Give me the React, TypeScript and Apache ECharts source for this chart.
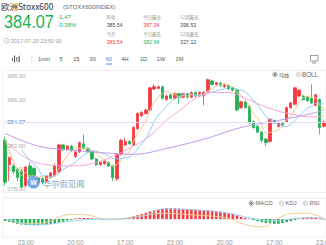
import React, { useEffect, useRef } from 'react';
import * as echarts from 'echarts';

// ---------- data ----------
const opens = [382.5, 380.4, 380.3, 380.0, 379.8, 378.6, 380.3, 380.1, 379.3, 379.2, 379.0, 379.3, 379.5, 379.8, 382.1, 381.7, 382.0,
  381.1, 381.5, 382.2, 381.8, 381.5, 380.9, 380.4, 380.5, 380.6, 380.3, 379.2, 381.3, 382.1, 382.4, 382.1, 383.5, 384.6, 384.8, 385.1,
  386.9, 386.95, 387.1, 386.0, 386.4, 386.1, 386.5, 386.2, 386.5, 386.2, 386.6, 386.3, 386.3, 386.7, 387.6, 387.3, 387.4, 387.1, 387.2,
  387.0, 386.8, 385.3, 385.8, 385.4, 384.1, 383.7, 383.2, 382.6, 382.4, 384.2, 383.7,
  384.0, 384.1, 385.3, 385.6, 386.3, 386.3, 386.2, 386.1, 385.5, 386.0, 383.7];
const closes = [378.9, 381.0, 379.8, 379.3, 378.5, 380.2, 379.4, 379.5, 378.9, 378.9, 379.4, 379.7, 380.3, 382.1, 381.7, 382.0, 381.6,
  381.5, 382.3, 381.8, 381.5, 380.9, 380.4, 380.6, 380.7, 380.3, 379.3, 381.3, 382.5, 382.4, 382.2, 383.6, 384.8, 384.9, 385.1, 387.0,
  387.1, 387.1, 386.1, 386.3, 386.1, 386.5, 386.2, 386.5, 386.2, 386.6, 386.3, 386.6, 386.6, 387.7, 387.3, 387.45, 387.2, 387.25, 386.9,
  386.8, 385.1, 385.8, 385.3, 384.0, 383.6, 383.2, 382.5, 382.3, 384.3, 384.0, 384.0,
  383.8, 385.3, 385.7, 387.0, 386.8, 386.0, 385.9, 385.7, 386.4, 383.6, 384.07];
const lows = [378.6, 379.0, 379.6, 379.0, 378.4, 378.5, 379.3, 379.4, 378.8, 378.7, 378.9, 379.2, 379.4, 379.7, 381.6, 381.6, 381.5,
  381.0, 381.4, 381.7, 381.4, 380.8, 380.3, 380.3, 380.4, 380.2, 379.0, 379.0, 381.2, 382.0, 382.1, 382.0, 383.4, 384.5, 384.7, 385.0,
  386.8, 386.9, 386.0, 385.9, 386.0, 386.0, 385.6, 386.1, 386.1, 386.1, 386.2, 386.2, 385.5, 386.6, 387.2, 387.2, 387.1, 387.0, 386.8,
  386.7, 385.0, 385.2, 385.2, 383.9, 383.5, 383.1, 382.3, 382.0, 382.3, 383.9, 383.6,
  383.7, 384.0, 385.2, 385.5, 386.2, 385.9, 385.8, 385.6, 385.4, 383.0, 383.6];
const highs = [382.8, 381.1, 380.5, 380.1, 380.0, 380.3, 380.6, 380.2, 379.4, 379.3, 379.5, 379.8, 380.5, 382.2, 382.2, 382.1, 382.1,
  381.6, 382.4, 383.0, 381.9, 381.6, 381.0, 380.7, 380.8, 380.7, 380.4, 381.4, 382.6, 382.7, 382.5, 383.7, 384.9, 385.0, 385.2, 387.1,
  387.3, 387.2, 387.2, 386.4, 386.5, 386.6, 386.6, 386.6, 386.6, 386.7, 386.7, 386.7, 386.7, 387.8, 387.7, 387.5, 387.5, 387.3, 387.3,
  387.1, 386.9, 385.9, 385.9, 385.5, 384.2, 383.8, 383.3, 382.7, 384.4, 384.3, 384.1,
  384.1, 385.4, 385.8, 387.1, 386.9, 386.4, 386.3, 387.3, 386.5, 386.1, 384.2];

// moving-average values before the windows are complete
const ma5Head = [382.6, 381.6, 380.7, 380.0];
const ma10Head = [null, null, null, null, 381.7, 381.2, 380.8, 380.4, 380.1];
// sparse points [candle index, value]
const ma20Points = [[0, 382.5], [5, 381.0], [10, 380.4], [16, 380.3], [23, 380.7], [31, 382.0], [35, 382.9], [39, 384.2], [43, 385.3],
  [46, 386.1], [50, 386.6], [54, 386.6], [58, 386.1], [62, 385.5], [66, 385.0], [70, 384.7], [74, 384.5], [77, 384.6]];
const ma60Points = [[0, 383.1], [8, 382.0], [15, 381.7], [23, 381.45], [31, 381.3], [39, 381.8], [49, 382.7], [57, 383.6],
  [66, 384.2], [74, 384.8], [77, 385.1]];

const macdHist = [-2, -3, -4, -5, -5.5, -6, -6, -6, -6, -5.5, -5.5, -5, -4.5, -3.5, -2.5, -1.5, -0.8,
  0.6, 0.9, 1.0, 0.8, 0.6, 0.3, -0.3, -0.4, -0.5, -0.6, -0.3, 0.5, 1.2, 2.0, 3.0, 4.0, 5.0, 6.2, 7.5, 8.5, 9.5, 10.3,
  10.8, 10.8, 10.6, 10.4, 10.2, 10.0, 9.8, 9.5, 9.2, 9.0, 8.8, 8.5, 8.0, 7.5, 7.0, 6.0, 5.0, 3.5, 2.0, 1.0, 0.4,
  -1.0, -2.2, -3.2, -4.0, -4.5, -4.8, -4.8,
  -4.0, -3.2, -2.2, -1.0, 0.5, 1.0, 1.3, 1.5, 1.5, 0.8, -0.5];
const difPoints = [[0, 0], [2, -3], [5, -4.3], [8, -4.3], [11, -2], [14, 3.5], [17, 4.7], [20, 4.0], [24, 0], [28, -0.3], [31, 2.3],
  [35, 4.5], [38, 5.7], [46, 4.0], [54, 0.7], [57, -4.3], [61, -7.7], [63, -7.7], [65, -1], [70, 5.7], [73, 5.7], [75, 4], [77, 0.7]];
const deaPoints = [[0, 0], [3, -3], [7, -6], [11, -5], [15, -2.7], [21, -0.3], [26, 0], [31, 1.3], [35, 5], [38, 10], [46, 9],
  [54, 5.7], [59, 1.3], [64, -2], [69, 0], [73, 1.3], [77, 0.7]];

const timeLabels = ['23:00', '20:00', '17:00', '23:00', '20:00', '17:00', '23:00'];
const LABEL_START = 5;
const LABEL_EVERY = 12;
const yTickValues = [378, 380, 382, 386, 388];
const LAST_PRICE = 384.07;

const toolbarItems = ['1min', '5', '15', '30', '60', '4H', '1D', '1W', '1M'];
const toolbarX = [44, 61, 76.3, 92.7, 108.8, 125, 143.5, 161, 179.5];

// ---------- styles ----------
const RED = '#f5393f';
const GREEN = '#1db152';
const BLUE = '#3a86e0';
const FONT = '"Liberation Sans", Arial, sans-serif';
const CJK = '"Noto Sans CJK SC", "Liberation Sans", sans-serif';

function movingAvg(n: number, head: (number | null)[]) {
  return closes.map((_, i) => {
    if (i < n - 1) return head[i] ?? null;
    let s = 0;
    for (let k = i - n + 1; k <= i; k++) s += closes[k];
    return +(s / n).toFixed(3);
  });
}

function txt(text: string, x: number, y: number, size: number, color: string, family = FONT, extra: any = {}) {
  return {
    type: 'text', x, y, silent: true, z: 100,
    style: {
      text, x: 0, y: 0, fill: color,
      font: `${extra.weight || 'normal'} ${size}px ${family}`,
      textAlign: extra.align || 'left', align: extra.align || 'left',
      textVerticalAlign: 'middle', verticalAlign: 'middle',
    },
    ...(extra.el || {}),
  };
}

function radio(cx: number, cy: number, on: boolean) {
  return on
    ? [
        { type: 'circle', silent: true, z: 100, shape: { cx, cy, r: 2.4 }, style: { fill: '#fff', stroke: '#888', lineWidth: 0.7 } },
        { type: 'circle', silent: true, z: 101, shape: { cx, cy, r: 1.2 }, style: { fill: '#555' } },
      ]
    : [{ type: 'circle', silent: true, z: 100, shape: { cx, cy, r: 2.4 }, style: { fill: '#e4e4e4', stroke: '#ccc', lineWidth: 0.7 } }];
}

export default function App() {
  const ref = useRef<HTMLDivElement>(null);

  useEffect(() => {
    const chart = echarts.init(ref.current!, null, { renderer: 'svg' });
    const cats = closes.map((_, i) => String(i));
    const kData = closes.map((c, i) => [opens[i], c, lows[i], highs[i]]);

    const graphics: any[] = [
      // header
      txt('欧洲Stoxx600', 1, 6.4, 8.5, '#333', CJK),
      txt('(STOXX600INDEX)', 63, 6.5, 6, '#666'),
      txt('384.07', 4, 21.3, 19, GREEN, FONT, { el: { scaleX: 0.86 } }),
      txt('-1.47', 57.3, 17.2, 6, GREEN),
      txt('-0.38%', 57.3, 24.5, 6, GREEN),
      { type: 'circle', silent: true, z: 100, shape: { cx: 6.7, cy: 40.8, r: 2.5 }, style: { fill: 'none', stroke: '#999', lineWidth: 0.6 } },
      { type: 'polyline', silent: true, z: 100, shape: { points: [[6.7, 39.3], [6.7, 40.9], [7.9, 41.6]] }, style: { fill: 'none', stroke: '#999', lineWidth: 0.5 } },
      txt('2017-07-20 23:50:00', 10.7, 40.9, 5.5, '#999'),
      txt('昨收', 106.7, 16.7, 4.4, '#999', CJK),
      txt('385.54', 106.7, 24.5, 5.2, '#444'),
      txt('今日最高', 143.3, 16.7, 4.4, '#999', CJK),
      txt('387.34', 143.3, 24.5, 5.2, RED),
      txt('52周最高', 180.3, 16.7, 4.4, '#999', CJK),
      txt('396.53', 180.3, 24.5, 5.2, '#444'),
      txt('今开', 106.7, 33.8, 4.4, '#999', CJK),
      txt('385.54', 106.7, 42, 5.2, RED),
      txt('今日最低', 143.3, 33.8, 4.4, '#999', CJK),
      txt('382.94', 143.3, 42, 5.2, GREEN),
      txt('52周最低', 180.3, 33.8, 4.4, '#999', CJK),
      txt('327.12', 180.3, 42, 5.2, '#444'),
      // toolbar
      { type: 'rect', silent: true, z: 100, shape: { x: 12, y: 58, width: 0.9, height: 3 }, style: { fill: '#555' } },
      { type: 'rect', silent: true, z: 100, shape: { x: 14, y: 55.5, width: 1.1, height: 7 }, style: { fill: '#555' } },
      { type: 'rect', silent: true, z: 100, shape: { x: 16.4, y: 57, width: 0.9, height: 4.5 }, style: { fill: '#555' } },
      { type: 'rect', silent: true, z: 100, shape: { x: 18.6, y: 55.8, width: 1.1, height: 6.5 }, style: { fill: '#555' } },
      { type: 'line', silent: true, z: 100, shape: { x1: 31.7, y1: 55.5, x2: 31.7, y2: 62.5 }, style: { stroke: '#ccc', lineWidth: 0.6 } },
      ...toolbarItems.map((t, i) => txt(t, toolbarX[i], 59, 5.6, t === '60' ? BLUE : '#555', FONT, { align: 'center' })),
      { type: 'rect', silent: true, z: 100, shape: { x: 106, y: 63.6, width: 5.8, height: 0.9 }, style: { fill: BLUE } },
      { type: 'rect', silent: true, z: 100, shape: { x: 310.5, y: 55.5, width: 7.5, height: 5.5 }, style: { fill: 'none', stroke: '#777', lineWidth: 0.7 } },
      { type: 'line', silent: true, z: 100, shape: { x1: 314.2, y1: 61, x2: 314.2, y2: 62.8 }, style: { stroke: '#777', lineWidth: 0.7 } },
      { type: 'line', silent: true, z: 100, shape: { x1: 312, y1: 63, x2: 316.5, y2: 63 }, style: { stroke: '#777', lineWidth: 0.7 } },
      // main legend
      ...radio(275, 74.6, true),
      txt('均线', 279, 74.6, 5, '#555', CJK),
      ...radio(298.5, 74.6, false),
      txt('BOLL', 302, 74.6, 6.3, '#666'),
      // MACD legend
      ...radio(251.3, 203.4, true),
      txt('MACD', 255.5, 203.4, 5.8, '#666'),
      ...radio(281.5, 203.4, false),
      txt('KDJ', 285.6, 203.4, 5.8, '#666'),
      ...radio(305.5, 203.4, false),
      txt('RSI', 309.6, 203.4, 5.8, '#666'),
      // watermark
      { type: 'circle', silent: true, z: 90, shape: { cx: 33.5, cy: 182.3, r: 6.3 }, style: { fill: '#5d9be6', opacity: 0.85 } },
      txt('W', 33.5, 182.5, 7, '#fff', FONT, { align: 'center', weight: 'bold' }),
      txt('华尔街见闻', 43, 182.5, 8.3, 'rgba(110,140,185,0.6)', CJK, { weight: 'bold' }),
    ];

    const option: any = {
      animation: false,
      backgroundColor: '#fff',
      textStyle: { fontFamily: FONT },
      graphic: graphics,
      grid: [
        { left: 3, width: 323, top: 70.4, height: 122.3, outerBoundsMode: 'none', containLabel: false, show: true, borderColor: '#eeeeee', borderWidth: 1, backgroundColor: 'transparent' },
        { left: 3, width: 323, top: 198, height: 39, outerBoundsMode: 'none', containLabel: false, show: true, borderColor: '#eeeeee', borderWidth: 1, backgroundColor: 'transparent' },
      ],
      xAxis: [
        { type: 'category', gridIndex: 0, data: cats, boundaryGap: true, show: false },
        {
          type: 'category', gridIndex: 1, data: cats, boundaryGap: true,
          axisLine: { show: true, lineStyle: { color: '#eeeeee' } }, axisTick: { show: false }, splitLine: { show: false },
          axisLabel: {
            fontSize: 6.5, color: '#999', margin: 1.5, fontFamily: FONT,
            interval: (idx: number) => idx >= LABEL_START && (idx - LABEL_START) % LABEL_EVERY === 0,
            formatter: (v: string) => {
              const i = Number(v);
              if (i < LABEL_START || (i - LABEL_START) % LABEL_EVERY !== 0) return '';
              return timeLabels[(i - LABEL_START) / LABEL_EVERY] ?? '';
            },
          },
        },
      ],
      yAxis: [
        {
          type: 'value', gridIndex: 0, min: 378, max: 388.5, position: 'left',
          axisLine: { show: false }, axisTick: { show: false }, splitLine: { show: false },
          axisLabel: {
            inside: true, margin: 4, fontSize: 6, color: '#aaa', lineHeight: 8, fontFamily: FONT,
            customValues: [...yTickValues, LAST_PRICE],
            formatter: (v: number) => {
              if (Math.abs(v - LAST_PRICE) < 1e-6) return `{last|${LAST_PRICE.toFixed(2)}}`;
              if (v === yTickValues[0]) return `${v.toFixed(2)}\n `;
              return v.toFixed(2);
            },
            rich: { last: { color: BLUE, fontSize: 6, fontFamily: FONT, lineHeight: 8 } },
          },
        },
        { type: 'value', gridIndex: 1, min: -18, max: 21, show: false, splitLine: { show: false } },
      ],
      series: [
        {
          type: 'candlestick', xAxisIndex: 0, yAxisIndex: 0, data: kData, barWidth: '68%',
          itemStyle: { color: RED, color0: GREEN, borderColor: RED, borderColor0: GREEN, borderWidth: 0.8 },
          markLine: {
            silent: true, symbol: 'none', animation: false,
            data: [{ yAxis: LAST_PRICE }],
            lineStyle: { color: '#e2ddf6', width: 1, type: 'solid' },
            label: { show: false },
          },
        },
        { type: 'line', name: 'MA5', xAxisIndex: 0, yAxisIndex: 0, data: movingAvg(5, ma5Head), showSymbol: false, smooth: 0.3, lineStyle: { color: '#f7c48c', width: 1 } },
        { type: 'line', name: 'MA10', xAxisIndex: 0, yAxisIndex: 0, data: movingAvg(10, ma10Head), showSymbol: false, smooth: 0.3, lineStyle: { color: '#8ccdf6', width: 1 } },
        { type: 'line', name: 'MA20', xAxisIndex: 0, yAxisIndex: 0, data: ma20Points, showSymbol: false, smooth: 0.4, lineStyle: { color: '#f5a6da', width: 1 } },
        { type: 'line', name: 'MA60', xAxisIndex: 0, yAxisIndex: 0, data: ma60Points, showSymbol: false, smooth: 0.4, lineStyle: { color: '#c597ea', width: 1 } },
        {
          type: 'bar', xAxisIndex: 1, yAxisIndex: 1, barWidth: '62%',
          data: macdHist.map((v) => ({ value: v, itemStyle: { color: v >= 0 ? RED : GREEN } })),
        },
        { type: 'line', name: 'DIF', xAxisIndex: 1, yAxisIndex: 1, data: difPoints, showSymbol: false, smooth: 0.4, lineStyle: { color: '#f8cb93', width: 1 } },
        { type: 'line', name: 'DEA', xAxisIndex: 1, yAxisIndex: 1, data: deaPoints, showSymbol: false, smooth: 0.4, lineStyle: { color: '#9dd2f6', width: 1 } },
      ],
    };
    chart.setOption(option);
    return () => chart.dispose();
  }, []);

  return <div ref={ref} style={{ position: 'absolute', left: 0, top: 0, width: 326, height: 245, background: '#fff' }} />;
}
